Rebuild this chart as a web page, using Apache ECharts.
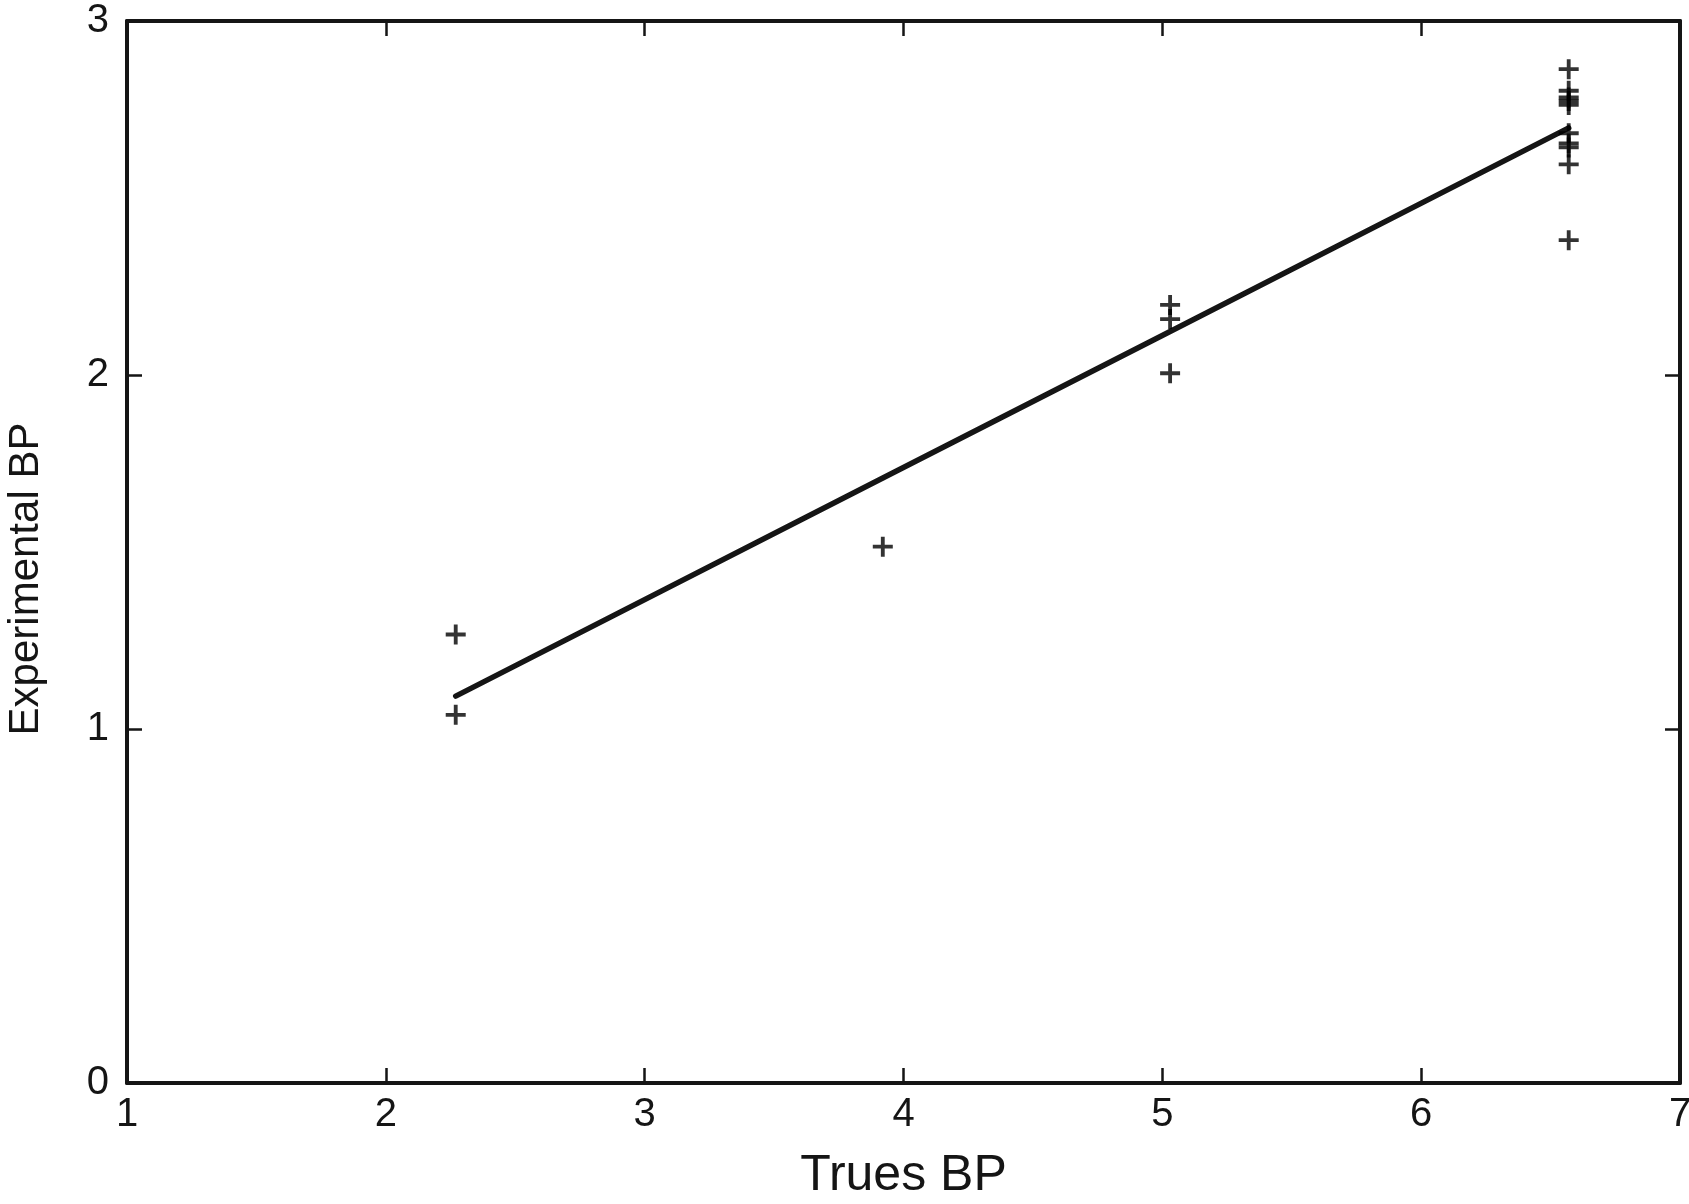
<!DOCTYPE html>
<html>
<head>
<meta charset="utf-8">
<script src="https://cdn.jsdelivr.net/npm/echarts@6/dist/echarts.min.js"></script>
<style>
html,body{margin:0;padding:0;background:#fff;}
#chart{width:1689px;height:1204px;}
</style>
</head>
<body>
<div id="chart"></div>
<script>
// Measured points (True BP, Experimental BP)
var trueBP = [2.27, 2.27, 3.92, 5.03, 5.03, 5.03,
  6.57, 6.57, 6.57, 6.57, 6.57, 6.57, 6.57, 6.57, 6.57, 6.57];
var expBP = [1.267, 1.040, 1.515, 2.198, 2.158, 2.005,
  2.864, 2.803, 2.784, 2.774, 2.763, 2.683, 2.654, 2.643, 2.595, 2.381];
// Fitted line values
var fitX = [2.27, 3.92, 5.03, 6.57];
var fitY = [1.093, 1.709, 2.123, 2.698];
var xTicks = [1, 2, 3, 4, 5, 6, 7];
var yTicks = [0, 1, 2, 3];

var pts = trueBP.map(function (x, i) { return [x, expBP[i]]; });
var fit = fitX.map(function (x, i) { return [x, fitY[i]]; });

var font = 'Liberation Sans, Arial, Helvetica, sans-serif';
var ink = '#151515';
var lineStyle = { color: ink, width: 4 };
function axisBase(extra) {
  var o = {
    axisLine: { show: true, onZero: false, lineStyle: lineStyle },
    axisTick: { show: true, inside: true, length: 15, lineStyle: { color: ink, width: 2.5 } },
    splitLine: { show: false },
    axisLabel: { show: false }
  };
  for (var k in extra) o[k] = extra[k];
  return o;
}

var chart = echarts.init(document.getElementById('chart'));
chart.setOption({
  backgroundColor: '#ffffff',
  animation: false,
  grid: { left: 127, right: 9, top: 21, bottom: 121, containLabel: false, outerBoundsMode: 'none' },
  xAxis: [
    axisBase({
      type: 'value', position: 'bottom', min: xTicks[0], max: xTicks[xTicks.length - 1], interval: 1,
      name: 'Trues BP', nameLocation: 'middle', nameGap: 68,
      nameTextStyle: { fontFamily: font, fontSize: 50, color: ink },
      axisLabel: { show: true, margin: 12, fontFamily: font, fontSize: 40, color: ink }
    }),
    axisBase({ type: 'value', position: 'top', min: xTicks[0], max: xTicks[xTicks.length - 1], interval: 1 })
  ],
  yAxis: [
    axisBase({
      type: 'value', position: 'left', min: yTicks[0], max: yTicks[yTicks.length - 1], interval: 1,
      name: 'Experimental BP', nameLocation: 'middle', nameGap: 80, nameRotate: 90,
      nameTextStyle: { fontFamily: font, fontSize: 42, color: ink, padding: [0, 54, 0, 0] },
      axisLabel: { show: true, margin: 18, fontFamily: font, fontSize: 40, color: ink }
    }),
    axisBase({ type: 'value', position: 'right', min: yTicks[0], max: yTicks[yTicks.length - 1], interval: 1 })
  ],
  series: [
    {
      type: 'line', data: fit, xAxisIndex: 0, yAxisIndex: 0,
      showSymbol: false, symbol: 'none',
      lineStyle: { color: ink, width: 5.5, cap: 'round', join: 'round' },
      z: 2
    },
    {
      type: 'scatter', data: pts, xAxisIndex: 0, yAxisIndex: 0,
      symbol: 'path://M8,0 H11.8 V8 H19.8 V11.8 H11.8 V19.8 H8 V11.8 H0 V8 H8 Z',
      symbolSize: 20,
      itemStyle: { color: '#000' },
      z: 3
    }
  ]
});
</script>
</body>
</html>
